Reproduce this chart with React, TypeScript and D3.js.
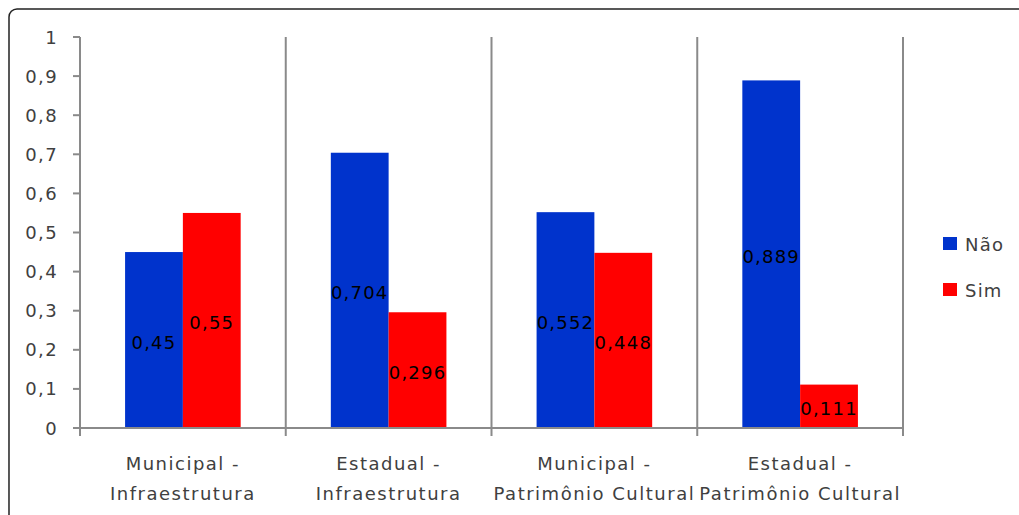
import React from "react";
import * as d3 from "d3";

// Categories (two-line labels) and the share of answers per series
const categories = [
  "Municipal - Infraestrutura",
  "Estadual - Infraestrutura",
  "Municipal - Patrimônio Cultural",
  "Estadual - Patrimônio Cultural",
];
const categoryLines = [
  ["Municipal -", "Infraestrutura"],
  ["Estadual -", "Infraestrutura"],
  ["Municipal -", "Patrimônio Cultural"],
  ["Estadual -", "Patrimônio Cultural"],
];
const seriesNames = ["Não", "Sim"];
const naoValues = [0.45, 0.704, 0.552, 0.889];
const simValues = [0.55, 0.296, 0.448, 0.111];
const seriesColors = ["#0033CC", "#FF0000"];
const yTicks = [0, 0.1, 0.2, 0.3, 0.4, 0.5, 0.6, 0.7, 0.8, 0.9, 1];

const W = 1019;
const H = 515;
const FONT = "'DejaVu Sans', Verdana, sans-serif";
const AXIS = "#8a8a8a";
const TEXT = "#404040";

export default function App() {
  const left = 80;
  const right = 903;
  const top = 37;
  const bottom = 428;

  const x = d3.scaleBand<string>().domain(categories).range([left, right]).padding(0);
  const y = d3.scaleLinear().domain([0, 1]).range([bottom, top]);
  const inner = d3
    .scaleBand<string>()
    .domain(seriesNames)
    .range([0, x.bandwidth()])
    .paddingOuter(0.78)
    .paddingInner(0);

  const series = [naoValues, simValues];
  const fmt = (v: number) => String(v).replace(".", ",");
  const boundaries = [...categories.map((c) => x(c)!), right];

  return (
    <svg
      width={W}
      height={H}
      style={{ position: "absolute", left: 0, top: 0, background: "#fff" }}
      fontFamily={FONT}
    >
      {/* chart frame */}
      <rect x={9} y={9} width={1040} height={540} rx={8} fill="#fff" stroke="#222" strokeWidth={1.5} />

      {/* category separators */}
      {boundaries.map((bx, i) => (
        <line key={"sep" + i} x1={bx} x2={bx} y1={top} y2={bottom + 8} stroke={AXIS} strokeWidth={2} />
      ))}

      {/* y axis ticks and labels */}
      {yTicks.map((t) => (
        <g key={"yt" + t}>
          <line x1={left - 7} x2={left} y1={y(t)} y2={y(t)} stroke={AXIS} strokeWidth={2} />
          <text
            x={58}
            y={y(t)}
            textAnchor="end"
            dominantBaseline="central"
            fontSize={18}
            letterSpacing={1.4}
            fill={TEXT}
          >
            {fmt(t)}
          </text>
        </g>
      ))}

      {/* bars */}
      {categories.map((c, ci) =>
        series.map((vals, si) => {
          const bx = x(c)! + inner(seriesNames[si])!;
          const bw = inner.bandwidth();
          return (
            <rect
              key={"b" + ci + si}
              x={bx}
              y={y(vals[ci])}
              width={bw}
              height={bottom - y(vals[ci])}
              fill={seriesColors[si]}
            />
          );
        })
      )}

      {/* x axis */}
      <line x1={left} x2={right} y1={bottom} y2={bottom} stroke={AXIS} strokeWidth={2} />

      {/* data labels */}
      {categories.map((c, ci) =>
        series.map((vals, si) => {
          const cx = x(c)! + inner(seriesNames[si])! + inner.bandwidth() / 2;
          const cy = (y(vals[ci]) + bottom) / 2 + 2;
          return (
            <text
              key={"l" + ci + si}
              x={cx}
              y={cy}
              textAnchor="middle"
              dominantBaseline="central"
              fontSize={18}
              letterSpacing={1.2}
              fill="#000"
            >
              {fmt(vals[ci])}
            </text>
          );
        })
      )}

      {/* category labels */}
      {categories.map((c, ci) => (
        <text
          key={"c" + ci}
          x={x(c)! + x.bandwidth() / 2}
          textAnchor="middle"
          fontSize={18}
          letterSpacing={1.5}
          fill={TEXT}
        >
          <tspan x={x(c)! + x.bandwidth() / 2} y={470}>
            {categoryLines[ci][0]}
          </tspan>
          <tspan x={x(c)! + x.bandwidth() / 2} y={500}>
            {categoryLines[ci][1]}
          </tspan>
        </text>
      ))}

      {/* legend */}
      {seriesNames.map((s, si) => (
        <g key={"lg" + si} transform={`translate(943, ${237 + si * 46})`}>
          <rect width={14} height={13} fill={seriesColors[si]} />
          <text x={22} y={7} dominantBaseline="central" fontSize={18} letterSpacing={1.2} fill={TEXT}>
            {s}
          </text>
        </g>
      ))}
    </svg>
  );
}
